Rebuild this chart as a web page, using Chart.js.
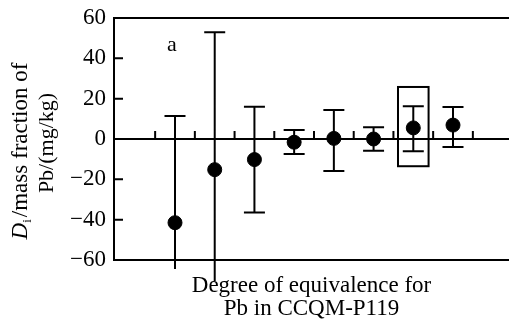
<!DOCTYPE html>
<html>
<head>
<meta charset="utf-8">
<script src="https://cdn.jsdelivr.net/npm/chart.js"></script>
<style>
  html, body { margin: 0; padding: 0; background: #fff; overflow: hidden; }
  #wrap { width: 509px; height: 320px; }
</style>
</head>
<body>
<div id="wrap"><canvas id="chart"></canvas></div>
<script>
// participants along x, degree of equivalence D_i and its expanded uncertainty ends
var labs = [1, 2, 3, 4, 5, 6, 7, 8];
var values = [-41.5, -15.2, -10.2, -1.6, 0.3, 0.0, 5.5, 6.9];
var upper = [11.4, 52.9, 16.0, 4.5, 14.4, 5.8, 16.2, 15.9];
var lower = [-64.5, -70.4, -36.4, -7.4, -15.9, -5.8, -6.1, -4.0];
var yTicks = [-60, -40, -20, 0, 20, 40, 60];
// highlighted participant (box)
var boxLab = 7;
var boxLow = -13.5;
var boxHigh = 25.8;
var panelLabel = 'a';
var xTitle = ['Degree of equivalence for', 'Pb in CCQM-P119'];

var serif = '"Liberation Serif", "Times New Roman", serif';

var decor = {
  id: 'decor',
  beforeDatasetsDraw: function (chart) {
    var ctx = chart.ctx, xs = chart.scales.x, ys = chart.scales.y, a = chart.chartArea;
    ctx.save();
    ctx.strokeStyle = '#000';
    ctx.lineWidth = 2;
    ctx.beginPath();
    // inward ticks on the left axis
    yTicks.forEach(function (v) {
      var y = ys.getPixelForValue(v);
      ctx.moveTo(a.left, y);
      ctx.lineTo(a.left + 9, y);
    });
    // small ticks on the zero line between participants
    var y0 = ys.getPixelForValue(0);
    for (var k = 0; k <= labs.length; k++) {
      var tx = xs.getPixelForValue(k + 0.5);
      ctx.moveTo(tx, y0);
      ctx.lineTo(tx, y0 - 8);
    }
    // error bars
    labs.forEach(function (c, i) {
      var x = xs.getPixelForValue(c);
      var yt = ys.getPixelForValue(upper[i]);
      var yb = ys.getPixelForValue(lower[i]);
      ctx.moveTo(x, yt);
      ctx.lineTo(x, yb);
      ctx.moveTo(x - 10.5, yt);
      ctx.lineTo(x + 10.5, yt);
      if (lower[i] >= ys.min) {
        ctx.moveTo(x - 10.5, yb);
        ctx.lineTo(x + 10.5, yb);
      }
    });
    ctx.stroke();
    // box round the highlighted result
    var bx1 = xs.getPixelForValue(boxLab - 0.385);
    var bx2 = xs.getPixelForValue(boxLab + 0.385);
    var by1 = ys.getPixelForValue(boxHigh);
    var by2 = ys.getPixelForValue(boxLow);
    ctx.strokeRect(bx1, by1, bx2 - bx1, by2 - by1);
    // panel letter
    ctx.fillStyle = '#000';
    ctx.font = '22px ' + serif;
    ctx.textAlign = 'center';
    ctx.textBaseline = 'alphabetic';
    ctx.fillText(panelLabel, xs.getPixelForValue(0.92), ys.getPixelForValue(43.5));
    ctx.restore();
  },
  afterDraw: function (chart) {
    var ctx = chart.ctx;
    ctx.save();
    ctx.fillStyle = '#000';
    ctx.textBaseline = 'alphabetic';
    ctx.textAlign = 'left';
    // line 1: D_i/mass fraction of
    var fD = 'italic 23px ' + serif, fSub = '13px ' + serif, fN = '23px ' + serif;
    ctx.font = fD; var wD = ctx.measureText('D').width;
    ctx.font = fSub; var wI = ctx.measureText('i').width;
    var rest = '/mass fraction of';
    ctx.font = fN; var wR = ctx.measureText(rest).width;
    var total = wD + wI + 2 + wR;
    ctx.translate(27, 151);
    ctx.rotate(-Math.PI / 2);
    var x0 = -total / 2;
    ctx.font = fD; ctx.fillText('D', x0, 0);
    ctx.font = fSub; ctx.fillText('i', x0 + wD, 4);
    ctx.font = fN; ctx.fillText(rest, x0 + wD + wI + 2, 0);
    ctx.restore();
    ctx.save();
    ctx.fillStyle = '#000';
    ctx.font = '22px ' + serif;
    ctx.textAlign = 'center';
    ctx.textBaseline = 'alphabetic';
    ctx.translate(53, 143);
    ctx.rotate(-Math.PI / 2);
    ctx.fillText('Pb/(mg/kg)', 0, 0);
    ctx.restore();
  }
};

new Chart(document.getElementById('chart'), {
  type: 'scatter',
  data: {
    datasets: [{
      data: labs.map(function (c, i) { return { x: c, y: values[i] }; }),
      pointRadius: 7,
      pointHoverRadius: 7,
      backgroundColor: '#000',
      borderColor: '#000',
      borderWidth: 1,
      clip: false
    }]
  },
  options: {
    responsive: true,
    maintainAspectRatio: false,
    animation: false,
    events: [],
    layout: { autoPadding: false, padding: { top: 18, left: 0, right: 0, bottom: 0 } },
    plugins: { legend: { display: false }, tooltip: { enabled: false } },
    scales: {
      x: {
        type: 'linear',
        min: -0.536,
        max: 9.41,
        ticks: { display: false },
        grid: { display: false },
        border: { display: true, color: '#000', width: 2 },
        title: {
          display: true,
          text: xTitle,
          color: '#000',
          font: { family: serif, size: 23, lineHeight: 1.0 },
          padding: { top: 0, bottom: 0 }
        },
        afterFit: function (s) { s.height = 60; s.paddingLeft = 0; s.paddingRight = 0; }
      },
      y: {
        min: -60,
        max: 60,
        afterBuildTicks: function (s) { s.ticks = yTicks.map(function (v) { return { value: v }; }); },
        ticks: {
          color: '#000',
          padding: 8,
          font: { family: serif, size: 23 },
          callback: function (v) { return v < 0 ? '\u2212' + Math.abs(v) : String(v); }
        },
        grid: {
          drawTicks: false,
          lineWidth: 2,
          color: function (c) { return (c.tick && (c.tick.value === 0 || c.tick.value === 60)) ? '#000' : 'rgba(0,0,0,0)'; }
        },
        border: { display: true, color: '#000', width: 2 },
        afterFit: function (s) { s.width = 114; s.paddingTop = 0; s.paddingBottom = 0; }
      }
    }
  },
  plugins: [decor]
});
</script>
</body>
</html>
